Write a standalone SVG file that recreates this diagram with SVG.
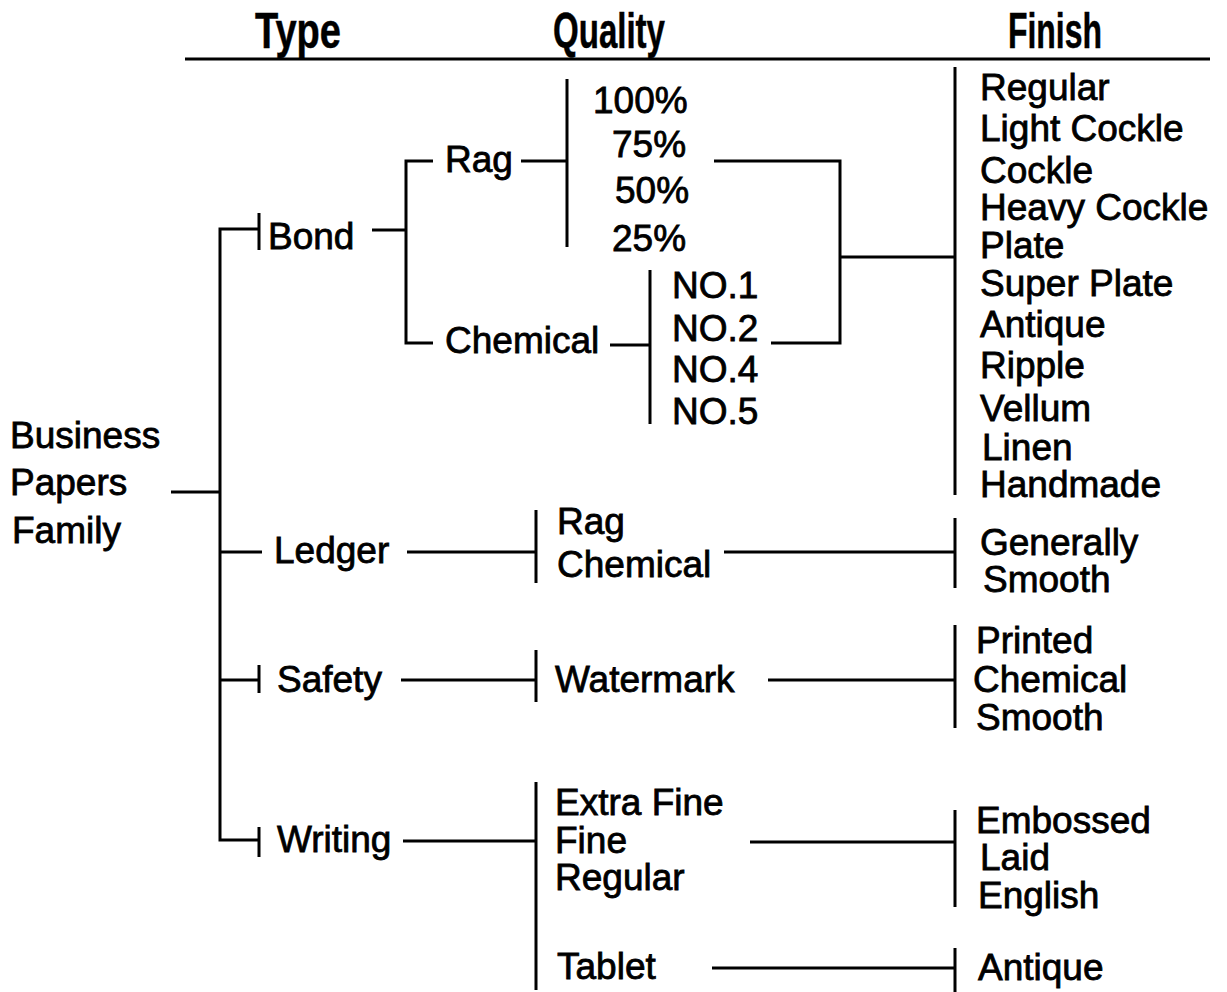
<svg xmlns="http://www.w3.org/2000/svg" width="1227" height="992" viewBox="0 0 1227 992">
<style>
text{font-family:"Liberation Sans",Arial,sans-serif;font-size:37px;fill:#000;stroke:#000;stroke-width:0.8}
.h{font-weight:bold;font-size:50px;stroke-width:0.5}
.c{fill:none;stroke:#000;stroke-width:3}
</style>
<rect width="1227" height="992" fill="#fff"/>
<g id="header">
<text class="h" x="255" y="48" textLength="86" lengthAdjust="spacingAndGlyphs">Type</text>
<text class="h" x="553" y="48" textLength="112" lengthAdjust="spacingAndGlyphs">Quality</text>
<text class="h" x="1008" y="48" textLength="94" lengthAdjust="spacingAndGlyphs">Finish</text>
<path class="c" d="M185 59H1210"/>
</g>
<g id="connectors">
<path class="c" d="M171 492H220"/>
<path class="c" d="M259 229H220V840H259M220 552H262M220 680H259"/>
<path class="c" d="M259 213V250M259 665V693M259 827V857"/>
<path class="c" d="M372 230H406M433 161H406V343H433"/>
<path class="c" d="M521 161H567M567 79V247"/>
<path class="c" d="M714 161H840V343H771M840 257H955"/>
<path class="c" d="M610 345H650M650 270V424"/>
<path class="c" d="M955 67V495"/>
<path class="c" d="M407 552H536M536 510V583M724 552H955M955 518V588"/>
<path class="c" d="M401 680H536M536 650V702M768 680H955M955 625V728"/>
<path class="c" d="M403 841H536M536 782V990M750 842H955M955 810V907M712 968H955M955 948V992"/>
</g>
<g id="root"><text x="10" y="448">Business</text><text x="10" y="495">Papers</text><text x="12" y="543">Family</text></g>
<g id="bond"><text x="268" y="249">Bond</text></g>
<g id="rag"><text x="445" y="172">Rag</text></g>
<g id="chemical"><text x="445" y="353">Chemical</text></g>
<g id="rag-quality"><text x="593" y="113">100%</text><text x="612" y="157">75%</text><text x="615" y="203">50%</text><text x="612" y="251">25%</text></g>
<g id="chemical-quality"><text x="672" y="298">NO.1</text><text x="672" y="341">NO.2</text><text x="672" y="382">NO.4</text><text x="672" y="424">NO.5</text></g>
<g id="bond-finish">
<text x="980" y="100">Regular</text><text x="980" y="141">Light Cockle</text><text x="980" y="183">Cockle</text><text x="980" y="220">Heavy Cockle</text><text x="980" y="258">Plate</text><text x="980" y="296">Super Plate</text><text x="980" y="337">Antique</text><text x="980" y="378">Ripple</text><text x="980" y="421">Vellum</text><text x="982" y="460">Linen</text><text x="980" y="497">Handmade</text>
</g>
<g id="ledger"><text x="274" y="563">Ledger</text></g>
<g id="ledger-quality"><text x="557" y="534">Rag</text><text x="557" y="577">Chemical</text></g>
<g id="ledger-finish"><text x="980" y="555">Generally</text><text x="983" y="592">Smooth</text></g>
<g id="safety"><text x="277" y="692">Safety</text></g>
<g id="watermark"><text x="555" y="692">Watermark</text></g>
<g id="safety-finish"><text x="976" y="653">Printed</text><text x="973" y="692">Chemical</text><text x="976" y="730">Smooth</text></g>
<g id="writing"><text x="277" y="852">Writing</text></g>
<g id="writing-quality"><text x="555" y="815">Extra Fine</text><text x="555" y="853">Fine</text><text x="555" y="890">Regular</text></g>
<g id="tablet"><text x="557" y="979">Tablet</text></g>
<g id="writing-finish"><text x="976" y="833">Embossed</text><text x="980" y="870">Laid</text><text x="978" y="908">English</text></g>
<g id="tablet-finish"><text x="978" y="980">Antique</text></g>
</svg>
